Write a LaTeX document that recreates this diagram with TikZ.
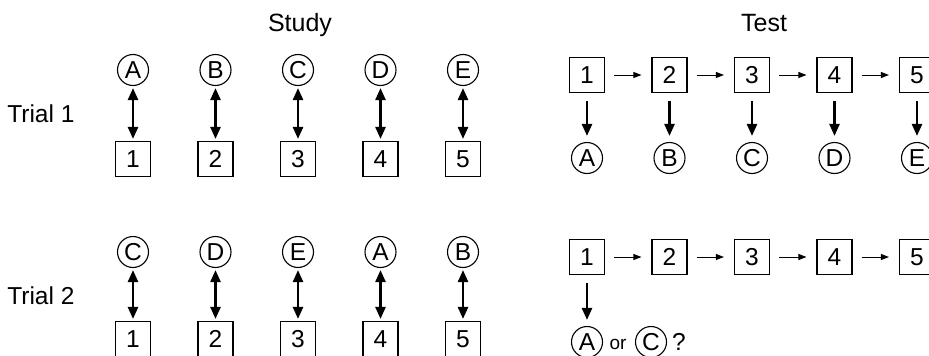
\documentclass[tikz,border=0pt]{standalone}
\usepackage{fontspec}
\setmainfont{Liberation Sans}
\usetikzlibrary{arrows.meta}
\begin{document}
\begin{tikzpicture}[x=1pt,y=-1pt,
  every node/.style={font=\fontsize{24.5}{24.5}\selectfont},
  lbl/.style={circle,draw,line width=1.1pt,minimum size=31pt,inner sep=0pt},
  num/.style={rectangle,draw,line width=1.1pt,minimum size=35pt,inner sep=0pt},
  dbl/.style={{Triangle[length=12pt,width=10pt]}-{Triangle[length=12pt,width=10pt]},line width=2.4pt,shorten <=2pt,shorten >=2pt},
  down/.style={-{Triangle[length=12pt,width=10pt]},line width=2.4pt,shorten <=8pt,shorten >=6pt},
  harrow/.style={-{Triangle[length=8pt,width=6pt]},line width=1pt,shorten <=9pt,shorten >=10pt},
  head/.style={anchor=base,font=\fontsize{25}{25}\selectfont}]
\useasboundingbox (0,0) rectangle (929,356);
\node[head] (study) at (300,31.5) {Study};
\node[head] (test) at (764,31.5) {Test};
\node[anchor=east] (trial1) at (78,114) {Trial 1};
\node[anchor=east] (trial2) at (78,296) {Trial 2};
% Study, trial 1
\foreach \i/\L in {1/A,2/B,3/C,4/D,5/E}{
  \pgfmathsetmacro\xx{133+82.5*(\i-1)}
  \node[lbl] (sa\i) at (\xx,70) {\L};
  \node[num] (sn\i) at (\xx,159) {\i};
  \draw[dbl] (sa\i) -- (sn\i);
}
% Study, trial 2
\foreach \i/\L in {1/C,2/D,3/E,4/A,5/B}{
  \pgfmathsetmacro\xx{133+82.5*(\i-1)}
  \node[lbl] (sb\i) at (\xx,252) {\L};
  \node[num] (sm\i) at (\xx,339) {\i};
  \draw[dbl] (sb\i) -- (sm\i);
}
% Test, trial 1
\foreach \i/\L in {1/A,2/B,3/C,4/D,5/E}{
  \pgfmathsetmacro\xx{587+82.5*(\i-1)}
  \node[num] (tn\i) at (\xx,75) {\i};
  \node[lbl] (ta\i) at (\xx,158) {\L};
  \draw[down] (tn\i) -- (ta\i);
}
% Test, trial 2
\foreach \i in {1,...,5}{
  \pgfmathsetmacro\xx{587+82.5*(\i-1)}
  \node[num] (un\i) at (\xx,257) {\i};
}
\foreach \i [evaluate=\i as \j using int(\i+1)] in {1,...,4}{
  \draw[harrow] (tn\i) -- (tn\j);
  \draw[harrow] (un\i) -- (un\j);
}
\node[lbl] (ua) at (587,342) {A};
\node[font=\fontsize{19}{19}\selectfont] (or) at (618,344) {or};
\node[lbl] (uc) at (651,342) {C};
\node (q) at (679,342) {?};
\draw[down] (un1) -- (ua);
\end{tikzpicture}
\end{document}
